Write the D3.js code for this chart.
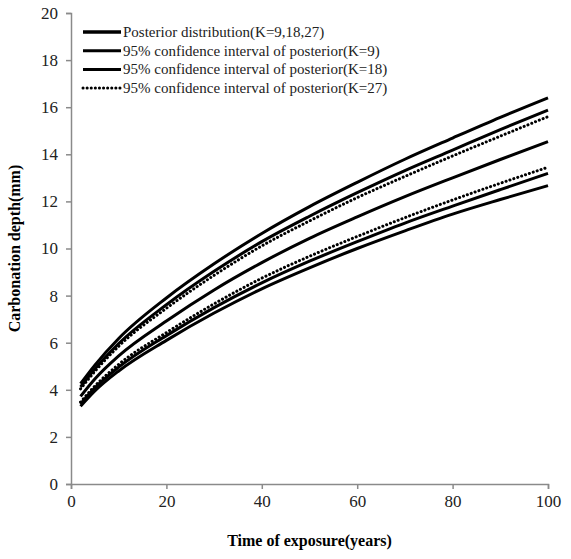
<!DOCTYPE html>
<html>
<head>
<meta charset="utf-8">
<script src="https://cdn.jsdelivr.net/npm/d3@7"></script>
<style>
  body { margin: 0; background: #fff; }
</style>
</head>
<body>
<div id="chart"></div>
<script>
// data
var years = [2, 5, 10, 20, 30, 40, 50, 60, 70, 80, 90, 100];

var posterior   = [3.72, 4.46, 5.44, 6.92, 8.24, 9.40, 10.43, 11.34, 12.20, 13.00, 13.78, 14.54];
var k9Upper     = [4.26, 5.05, 6.18, 7.90, 9.35, 10.64, 11.78, 12.81, 13.79, 14.69, 15.57, 16.40];
var k9Lower     = [3.30, 3.95, 4.80, 6.10, 7.26, 8.29, 9.18, 10.00, 10.75, 11.46, 12.08, 12.67];
var k18Upper    = [4.12, 4.88, 5.96, 7.61, 9.03, 10.29, 11.37, 12.37, 13.31, 14.18, 15.05, 15.88];
var k18Lower    = [3.40, 4.08, 4.96, 6.30, 7.49, 8.54, 9.46, 10.29, 11.08, 11.80, 12.50, 13.19];
var k27Upper    = [4.04, 4.78, 5.85, 7.46, 8.86, 10.11, 11.17, 12.16, 13.06, 13.93, 14.77, 15.60];
var k27Lower    = [3.48, 4.16, 5.08, 6.43, 7.65, 8.74, 9.67, 10.51, 11.31, 12.06, 12.77, 13.45];

var legendLabels = [
  "Posterior distribution(K=9,18,27)",
  "95% confidence interval of posterior(K=9)",
  "95% confidence interval of posterior(K=18)",
  "95% confidence interval of posterior(K=27)"
];
var xTicks = [0, 20, 40, 60, 80, 100];
var yTicks = [0, 2, 4, 6, 8, 10, 12, 14, 16, 18, 20];

var serif = "'Liberation Serif', 'Times New Roman', serif";

// chart size
var W = 571, H = 559;
var margin = {top: 13, right: 23, bottom: 75, left: 71},
    width = W - margin.left - margin.right,
    height = H - margin.top - margin.bottom;

var svg = d3.select("#chart").append("svg")
    .attr("width", W)
    .attr("height", H)
    .attr("font-family", serif)
  .append("g")
    .attr("transform", "translate(" + margin.left + "," + margin.top + ")");

var x = d3.scaleLinear().domain([0, 100]).range([0, width]);
var y = d3.scaleLinear().domain([0, 20]).range([height, 0]);

// axes
var xAxis = svg.append("g")
    .attr("transform", "translate(0," + height + ")")
    .call(d3.axisBottom(x).tickValues(xTicks).tickSize(5).tickPadding(6));
var yAxis = svg.append("g")
    .call(d3.axisLeft(y).tickValues(yTicks).tickSize(5).tickPadding(8));

[xAxis, yAxis].forEach(function(a) {
  a.attr("font-family", serif).attr("font-size", 17);
  a.select(".domain").attr("stroke", "#8a8a8a").attr("stroke-width", 1.5);
  a.selectAll(".tick line").attr("stroke", "#8a8a8a").attr("stroke-width", 1.5);
  a.selectAll(".tick text").attr("fill", "#222");
});

// curves
var series = [
  {v: k9Upper, dash: null},
  {v: k9Lower, dash: null},
  {v: k18Upper, dash: null},
  {v: k18Lower, dash: null},
  {v: k27Upper, dash: "0.1,4"},
  {v: k27Lower, dash: "0.1,4"},
  {v: posterior, dash: null}
];

var line = d3.line()
  .x(function(d) { return x(d[0]); })
  .y(function(d) { return y(d[1]); })
  .curve(d3.curveMonotoneX);

series.forEach(function(s) {
  svg.append("path")
    .datum(years.map(function(t, i) { return [t, s.v[i]]; }))
    .attr("fill", "none")
    .attr("stroke", "#000")
    .attr("stroke-width", 3)
    .attr("stroke-linecap", s.dash ? "round" : "butt")
    .attr("stroke-dasharray", s.dash)
    .attr("d", line);
});

// legend
var legend = svg.append("g").attr("transform", "translate(12,19)");
legendLabels.forEach(function(lbl, i) {
  var row = legend.append("g").attr("transform", "translate(0," + (i * 18.7) + ")");
  row.append("line")
    .attr("x1", 0).attr("x2", 38)
    .attr("y1", 0).attr("y2", 0)
    .attr("stroke", "#000")
    .attr("stroke-width", i == 0 ? 3.5 : 3)
    .attr("stroke-linecap", i == 3 ? "round" : "butt")
    .attr("stroke-dasharray", i == 3 ? "0.1,4" : null);
  row.append("text")
    .attr("x", 40).attr("y", 5)
    .attr("font-family", serif)
    .attr("font-size", 15)
    .attr("fill", "#222")
    .text(lbl);
});

// axis titles
svg.append("text")
  .attr("x", width / 2)
  .attr("y", height + 62)
  .attr("text-anchor", "middle")
  .attr("font-family", serif)
  .attr("font-size", 16)
  .attr("font-weight", "bold")
  .text("Time of exposure(years)");

svg.append("text")
  .attr("transform", "rotate(-90)")
  .attr("x", -height / 2)
  .attr("y", -51)
  .attr("text-anchor", "middle")
  .attr("font-family", serif)
  .attr("font-size", 16)
  .attr("font-weight", "bold")
  .text("Carbonation depth(mm)");
</script>
</body>
</html>
